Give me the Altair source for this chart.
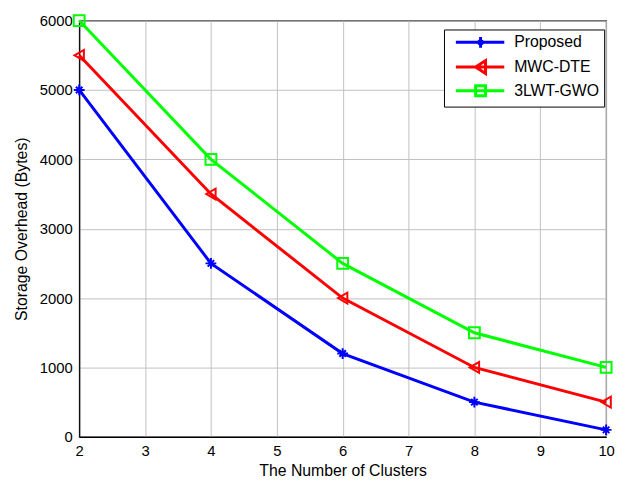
import altair as alt
import pandas as pd

series = ["Proposed", "MWC-DTE", "3LWT-GWO"]
colors = ["#0000FF", "#FF0000", "#00FF00"]
clusters = [2, 4, 6, 8, 10]
proposed = [5000, 2500, 1200, 500, 100]
mwc_dte = [5500, 3500, 2000, 1000, 500]
lwt_gwo = [6000, 4000, 2500, 1500, 1000]

rows = []
for name, vals in zip(series, [proposed, mwc_dte, lwt_gwo]):
    for c, v in zip(clusters, vals):
        rows.append({"series": name, "clusters": c, "overhead": v})
df = pd.DataFrame(rows)

# marker shapes for the plot
plot_shapes = [
    "M-1,0H1M0,-1V1M-0.6,-0.6L0.6,0.6M-0.6,0.6L0.6,-0.6",
    "triangle-left",
    "square",
]
# legend symbols: line segment + marker
legend_shapes = [
    "M-0.2,0H9.6M4.8,-1.1V1.1M4.4,-0.5L5.2,0.5M4.4,0.5L5.2,-0.5",
    "M-0.2,0H9.6M3.8,0L5.8,-1.3L5.8,1.3Z",
    "M-0.2,0H9.6M3.8,-1H5.8V1H3.8Z",
]

x = alt.X("clusters:Q", title="The Number of Clusters",
          scale=alt.Scale(domain=[2, 10], nice=False),
          axis=alt.Axis(values=list(range(2, 11)), format="d"))
y = alt.Y("overhead:Q", title="Storage Overhead (Bytes)",
          scale=alt.Scale(domain=[0, 6000], nice=False),
          axis=alt.Axis(values=list(range(0, 6001, 1000)), format="d"))
color = alt.Color("series:N", scale=alt.Scale(domain=series, range=colors), legend=None)

base = alt.Chart(df)
lines = base.mark_line(strokeWidth=3).encode(x=x, y=y, color=color, detail="series:N")
points = base.mark_point(strokeWidth=2, size=120, filled=False, opacity=1).encode(
    x=x, y=y, color=color,
    shape=alt.Shape("series:N", scale=alt.Scale(domain=series, range=plot_shapes), legend=None),
)
legend_layer = base.mark_point(opacity=0, filled=False).encode(
    x=x, y=y,
    color=alt.Color("series:N", scale=alt.Scale(domain=series, range=colors),
                    legend=alt.Legend(title=None)),
    shape=alt.Shape("series:N", scale=alt.Scale(domain=series, range=legend_shapes),
                    legend=alt.Legend(title=None)),
)

chart = alt.layer(lines, points, legend_layer).resolve_scale(
    shape="independent"
).resolve_legend(color="independent", shape="independent").properties(
    width=533, height=421,
    autosize=alt.AutoSizeParams(type="none"),
    padding={"left": 72, "top": 10, "right": 11, "bottom": 45},
    background="white",
).configure_view(
    stroke="black", strokeWidth=1.2
).configure_axis(
    labelFont="Liberation Sans", titleFont="Liberation Sans",
    labelFontSize=15, titleFontSize=16, labelColor="black", titleColor="black",
    titleFontWeight="normal", grid=True, gridColor="#c0c0c0", gridWidth=1,
    domainColor="black", domainWidth=1.2, ticks=False,
).configure_axisX(
    labelPadding=7, titlePadding=4, labelFlush=False
).configure_axisY(
    labelPadding=7, titlePadding=10, labelFlush=False
).configure_legend(
    orient="none", legendX=369, legendY=9,
    labelFont="Liberation Sans", labelFontSize=16, labelColor="black",
    symbolSize=100, symbolStrokeWidth=3, symbolOpacity=1, symbolFillColor="transparent",
    labelOffset=50, rowPadding=0, padding=5,
    strokeColor="black", fillColor="white", cornerRadius=0,
)

chart.save("out.html", embed_options={"renderer": "svg", "actions": False})
